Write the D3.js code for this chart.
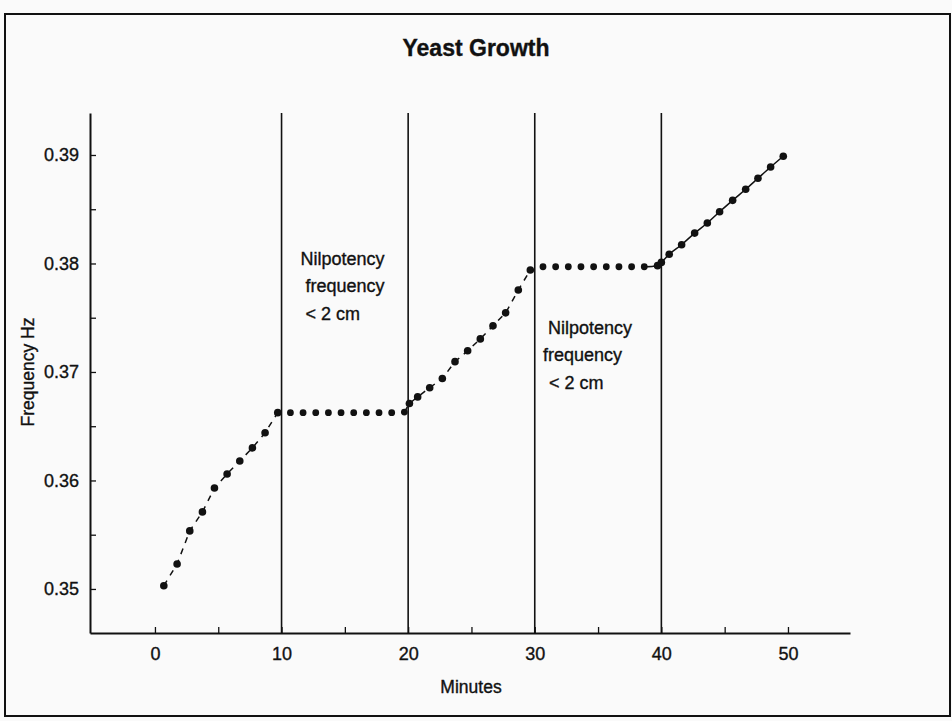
<!DOCTYPE html>
<html>
<head>
<meta charset="utf-8">
<script src="https://cdn.jsdelivr.net/npm/d3@7"></script>
<style>
  body { margin: 0; background: #fafafa; }
  svg { display: block; font-family: "Liberation Sans", Arial, sans-serif; }
  text { stroke: #111; stroke-width: 0.35px; }
</style>
</head>
<body>
<div id="chart"></div>
<script>
// rising part 1 (dashed)
var seg1Min = [0.7, 1.75, 2.75, 3.75, 4.7, 5.7, 6.7, 7.7, 8.7, 9.7];
var seg1Hz  = [0.3503, 0.3523, 0.35535, 0.3571, 0.3593, 0.3606, 0.3618, 0.3630, 0.3644, 0.36625];
// plateau 1
var flat1Min = [10.7, 11.7, 12.7, 13.7, 14.7, 15.7, 16.7, 17.7, 18.7, 19.7];
var flat1Hz  = [0.36625, 0.36625, 0.36625, 0.36625, 0.36625, 0.36625, 0.36625, 0.36625, 0.36625, 0.3663];
// rising part 2 (dashed)
var seg2Min = [20.1, 20.75, 21.7, 22.7, 23.7, 24.7, 25.7, 26.7, 27.7, 28.7, 29.65];
var seg2Hz  = [0.3671, 0.3677, 0.36855, 0.3694, 0.37095, 0.37195, 0.37305, 0.37425, 0.37545, 0.37755, 0.3794];
// plateau 2
var flat2Min = [30.65, 31.65, 32.65, 33.65, 34.65, 35.65, 36.65, 37.65, 38.65];
var flat2Hz  = [0.3797, 0.3797, 0.3797, 0.3797, 0.3797, 0.3797, 0.3797, 0.3797, 0.3797];
// rising part 3 (solid)
var seg3Min = [39.7, 40.0, 40.62, 41.6, 42.63, 43.63, 44.6, 45.63, 46.66, 47.63, 48.63, 49.63];
var seg3Hz  = [0.3798, 0.3801, 0.38085, 0.38173, 0.3828, 0.38373, 0.38477, 0.38582, 0.38684, 0.38785, 0.38889, 0.38988];

var dividers = [10, 20, 30, 40];
var xTicks = [0, 5, 10, 15, 20, 25, 30, 35, 40, 45, 50];
var yTicks = [0.35, 0.355, 0.36, 0.365, 0.37, 0.375, 0.38, 0.385, 0.39];
var noteLines = ["Nilpotency", "frequency", "< 2 cm"];

var width = 952, height = 721;

var svg = d3.select("#chart")
  .append("svg")
  .attr("width", width)
  .attr("height", height);

// outer frame
svg.append("rect")
  .attr("x", 5).attr("y", 14)
  .attr("width", 945).attr("height", 702)
  .attr("fill", "none")
  .attr("stroke", "#111")
  .attr("stroke-width", 2);

var x = d3.scaleLinear().domain([-5.13, 54.9]).range([90, 850]);
var y = d3.scaleLinear().domain([0.34594, 0.39387]).range([633, 113]);

// title
svg.append("text")
  .attr("x", 476).attr("y", 56)
  .attr("text-anchor", "middle")
  .attr("font-size", 23)
  .attr("font-weight", "bold")
  .attr("fill", "#111")
  .text("Yeast Growth");

// vertical dividers
svg.selectAll(".divider")
  .data(dividers)
  .enter()
  .append("line")
  .attr("class", "divider")
  .attr("x1", function(d) { return x(d); })
  .attr("x2", function(d) { return x(d); })
  .attr("y1", y.range()[1])
  .attr("y2", y.range()[0])
  .attr("stroke", "#111")
  .attr("stroke-width", 1.6);

// X axis
var xAxis = svg.append("g")
  .attr("transform", "translate(0," + y.range()[0] + ")")
  .call(d3.axisBottom(x)
    .tickValues(xTicks)
    .tickSizeInner(-6)
    .tickSizeOuter(0)
    .tickPadding(14)
    .tickFormat(function(d) { return d % 10 === 0 ? d : ""; }));

// Y axis
var yAxis = svg.append("g")
  .attr("transform", "translate(" + x.range()[0] + ",0)")
  .call(d3.axisLeft(y)
    .tickValues(yTicks)
    .tickSizeInner(-6)
    .tickSizeOuter(0)
    .tickPadding(11)
    .tickFormat(function(d) { return Math.round(d * 1000) % 10 === 0 ? d3.format(".2f")(d) : ""; }));

[xAxis, yAxis].forEach(function(g) {
  g.select(".domain").attr("stroke", "#111").attr("stroke-width", 2);
  g.selectAll(".tick line").attr("stroke", "#111").attr("stroke-width", 1.3);
  g.selectAll(".tick text")
    .attr("font-size", 18)
    .attr("font-family", "Liberation Sans, Arial, sans-serif")
    .attr("fill", "#111");
});

// axis titles
svg.append("text")
  .attr("x", 471).attr("y", 693)
  .attr("text-anchor", "middle")
  .attr("font-size", 17.5)
  .attr("fill", "#111")
  .text("Minutes");

svg.append("text")
  .attr("transform", "translate(34,372) rotate(-90)")
  .attr("text-anchor", "middle")
  .attr("font-size", 17.5)
  .attr("fill", "#111")
  .text("Frequency Hz");

// connecting lines
var line = d3.line()
  .x(function(d) { return x(d[0]); })
  .y(function(d) { return y(d[1]); });

function pairs(ms, hs) { return ms.map(function(m, i) { return [m, hs[i]]; }); }

svg.append("path")
  .datum(pairs(seg1Min, seg1Hz))
  .attr("d", line)
  .attr("fill", "none")
  .attr("stroke", "#111")
  .attr("stroke-width", 1.5)
  .attr("stroke-dasharray", "6,6");

svg.append("path")
  .datum([[flat1Min[flat1Min.length - 1], flat1Hz[flat1Hz.length - 1]]].concat(pairs(seg2Min, seg2Hz)))
  .attr("d", line)
  .attr("fill", "none")
  .attr("stroke", "#111")
  .attr("stroke-width", 1.5)
  .attr("stroke-dasharray", "6,6");

svg.append("path")
  .datum([[flat2Min[flat2Min.length - 1], flat2Hz[flat2Hz.length - 1]]].concat(pairs(seg3Min, seg3Hz)))
  .attr("d", line.curve(d3.curveMonotoneX))
  .attr("fill", "none")
  .attr("stroke", "#111")
  .attr("stroke-width", 1.5);

// dots
var rising = pairs(seg1Min, seg1Hz).concat(pairs(seg2Min, seg2Hz), pairs(seg3Min, seg3Hz));
var flat = pairs(flat1Min, flat1Hz).concat(pairs(flat2Min, flat2Hz));

svg.selectAll(".riseDot")
  .data(rising)
  .enter()
  .append("circle")
  .attr("class", "riseDot")
  .attr("cx", function(d) { return x(d[0]); })
  .attr("cy", function(d) { return y(d[1]); })
  .attr("r", 3.8)
  .attr("fill", "#111");

svg.selectAll(".flatDot")
  .data(flat)
  .enter()
  .append("circle")
  .attr("class", "flatDot")
  .attr("cx", function(d) { return x(d[0]); })
  .attr("cy", function(d) { return y(d[1]); })
  .attr("r", 3.4)
  .attr("fill", "#111");

// annotations
var notes = [
  { m: 11.5, hz: 0.37986, dx: [0, 5, 5] },
  { m: 31.05, hz: 0.3735, dx: [0, -5, 1] }
];

notes.forEach(function(n) {
  var t = svg.append("text")
    .attr("font-size", 18)
    .attr("fill", "#111");
  noteLines.forEach(function(s, i) {
    t.append("tspan")
      .attr("x", x(n.m) + n.dx[i])
      .attr("y", y(n.hz) + i * 27.5)
      .text(s);
  });
});
</script>
</body>
</html>
